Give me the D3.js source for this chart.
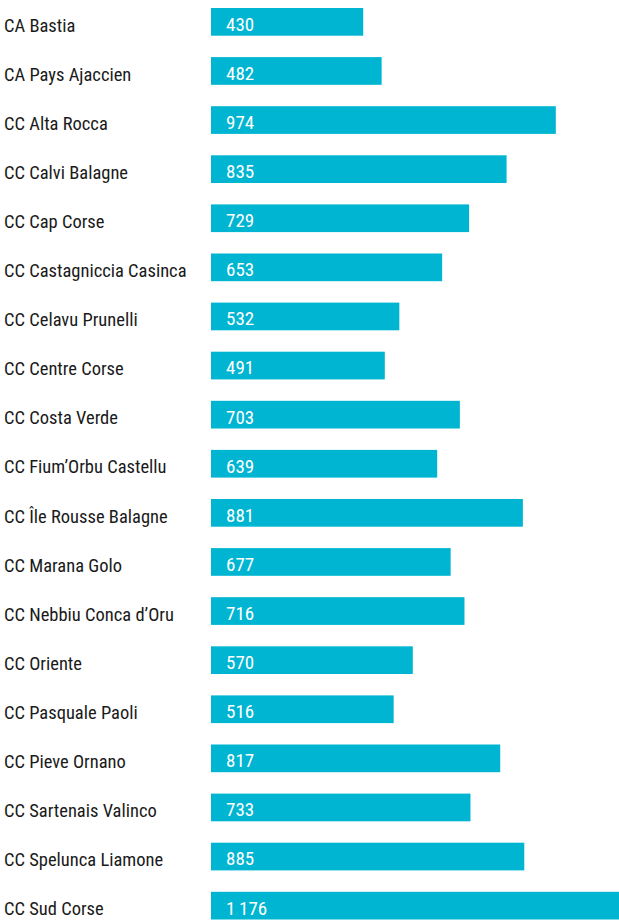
<!DOCTYPE html>
<html>
<head>
<meta charset="utf-8">
<script src="https://cdn.jsdelivr.net/npm/d3@7"></script>
<style>
  body { margin: 0; background: #fff; overflow: hidden; }
  text { font-family: "Roboto", "Open Sans", sans-serif; font-stretch: condensed; font-weight: 400; }
</style>
</head>
<body>
<svg id="chart" width="619" height="920"></svg>
<script>
// territories and their values
var territories = [
  "CA Bastia", "CA Pays Ajaccien", "CC Alta Rocca", "CC Calvi Balagne",
  "CC Cap Corse", "CC Castagniccia Casinca", "CC Celavu Prunelli",
  "CC Centre Corse", "CC Costa Verde", "CC Fium\u2019Orbu Castellu",
  "CC \u00CEle Rousse Balagne", "CC Marana Golo", "CC Nebbiu Conca d\u2019Oru",
  "CC Oriente", "CC Pasquale Paoli", "CC Pieve Ornano",
  "CC Sartenais Valinco", "CC Spelunca Liamone", "CC Sud Corse"
];
var values = [430, 482, 974, 835, 729, 653, 532, 491, 703, 639, 881, 677, 716, 570, 516, 817, 733, 885, 1176];

var svg = d3.select("#chart");
var barLeft = 211, barTop = 8, rowStep = 49.1, barH = 27.7;

var fr = d3.formatLocale({decimal: ",", thousands: "\u2009", grouping: [3], currency: ["", "\u20ac"]});
var fmt = fr.format(",d");

var x = d3.scaleLinear().domain([0, 1000]).range([0, 354]);
var y = d3.scaleBand().domain(territories)
  .range([barTop, barTop + rowStep * (territories.length - 1) + barH])
  .paddingInner(1 - barH / rowStep).paddingOuter(0);

var rows = svg.selectAll("g.row")
  .data(territories.map(function(t, i){ return {name: t, value: values[i]}; }))
  .enter().append("g")
  .attr("class", "row");

rows.append("rect")
  .attr("x", barLeft)
  .attr("y", function(d){ return y(d.name); })
  .attr("width", function(d){ return x(d.value); })
  .attr("height", y.bandwidth())
  .attr("fill", "#00b5d1");

rows.append("text")
  .attr("x", 4)
  .attr("y", function(d){ return y(d.name) + y.bandwidth() / 2 + 3.2; })
  .attr("dy", "0.35em")
  .attr("fill", "#1a1a1a")
  .style("font-size", "18.5px")
  .text(function(d){ return d.name; });

rows.append("text")
  .attr("x", barLeft + 15)
  .attr("y", function(d){ return y(d.name) + y.bandwidth() / 2 + 2.2; })
  .attr("dy", "0.35em")
  .attr("fill", "#fff")
  .style("font-size", "19px")
  .text(function(d){ return fmt(d.value); });
</script>
</body>
</html>
